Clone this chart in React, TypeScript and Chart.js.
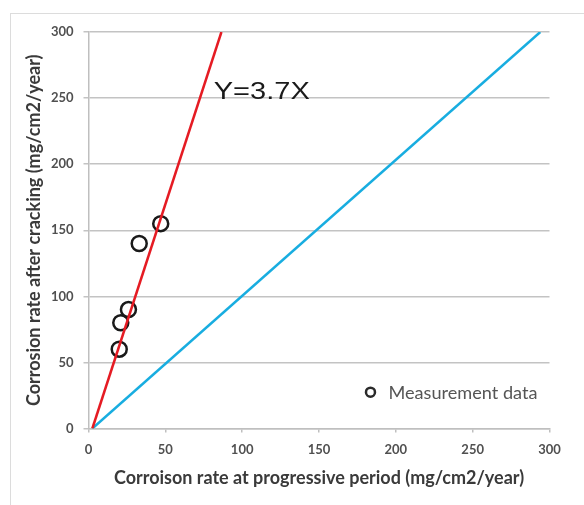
import React, { useEffect, useRef } from 'react';
import { Chart, registerables } from 'chart.js';

Chart.register(...registerables);

// ---- data ----
const xTickValues = [0, 50, 100, 150, 200, 250, 300];
const yTickValues = [0, 50, 100, 150, 200, 250, 300];
const measX = [20, 21, 26, 33, 47];
const measY = [60, 80, 90, 140, 155];
const fitLineX = [2.5, 86.5];
const fitLineY = [0, 300];
const refLineX = [2.5, 294];
const refLineY = [0, 300];
const fitLabel = 'Y=3.7X';
const legendLabel = 'Measurement data';
const xTitle = 'Corroison rate at progressive period (mg/cm2/year)';
const yTitle = 'Corrosion rate after cracking (mg/cm2/year)';

const toPts = (xs: number[], ys: number[]) => xs.map((x, i) => ({ x, y: ys[i] }));

const W = 584;
const H = 505;

const decorPlugin = {
  id: 'decor',
  beforeDraw(chart: any) {
    const ctx = chart.ctx;
    ctx.save();
    ctx.fillStyle = '#ffffff';
    ctx.fillRect(0, 0, chart.width, chart.height);
    ctx.strokeStyle = '#dcdcdc';
    ctx.lineWidth = 1;
    ctx.strokeRect(10.5, 13.5, 800, 800);
    ctx.restore();
  },
  afterDraw(chart: any) {
    const ctx = chart.ctx;
    const xs = chart.scales.x;
    const ys = chart.scales.y;
    ctx.save();
    // fit label
    ctx.font = '24px "Liberation Sans", Arial, sans-serif';
    ctx.fillStyle = '#1a1a1a';
    ctx.textBaseline = 'alphabetic';
    const tw = ctx.measureText(fitLabel).width;
    const lx = xs.getPixelForValue(81.5);
    const ly = ys.getPixelForValue(250) + 0.5;
    ctx.translate(lx, ly);
    ctx.scale(96 / tw, 1);
    ctx.fillText(fitLabel, 0, 0);
    ctx.restore();

    // legend
    ctx.save();
    const cx = xs.getPixelForValue(183.5);
    const cy = ys.getPixelForValue(27.5);
    ctx.beginPath();
    ctx.arc(cx, cy, 4.5, 0, Math.PI * 2);
    ctx.strokeStyle = '#2a2a2a';
    ctx.lineWidth = 2.5;
    ctx.stroke();
    ctx.font = '17px Lato, sans-serif';
    ctx.fillStyle = '#555555';
    ctx.textBaseline = 'middle';
    const lw = ctx.measureText(legendLabel).width;
    ctx.translate(cx + 18, cy + 1);
    ctx.scale(149 / lw, 1);
    ctx.fillText(legendLabel, 0, 0);
    ctx.restore();
  },
};

export default function App() {
  const ref = useRef<HTMLCanvasElement | null>(null);
  useEffect(() => {
    if (!ref.current) return;
    const chart = new Chart(ref.current, {
      type: 'scatter',
      data: {
        datasets: [
          {
            type: 'line',
            label: 'fit',
            data: toPts(fitLineX, fitLineY),
            borderColor: '#e51b23',
            borderWidth: 2.5,
            pointRadius: 0,
            fill: false,
            order: 0,
          },
          {
            type: 'line',
            label: 'ref',
            data: toPts(refLineX, refLineY),
            borderColor: '#18ade0',
            borderWidth: 2.5,
            pointRadius: 0,
            fill: false,
            order: 1,
          },
          {
            label: legendLabel,
            data: toPts(measX, measY),
            pointStyle: 'circle',
            pointRadius: 7.5,
            pointBorderWidth: 2.5,
            borderColor: '#1a1a1a',
            backgroundColor: 'rgba(0,0,0,0)',
            order: 2,
          },
        ],
      },
      options: {
        animation: false,
        responsive: false,
        maintainAspectRatio: false,
        layout: { padding: { left: 0, top: 32, right: 34.5, bottom: 0 } },
        plugins: { legend: { display: false }, tooltip: { enabled: false } },
        scales: {
          x: {
            type: 'linear',
            min: 0,
            max: 300,
            afterBuildTicks: (s: any) => {
              s.ticks = xTickValues.map((v) => ({ value: v }));
            },
            afterFit: (s: any) => {
              s.height = 76.5;
            },
            ticks: {
              color: '#505050',
              font: { family: 'Lato', size: 13, weight: 'bold' },
              padding: 10,
              maxRotation: 0,
            },
            grid: {
              drawOnChartArea: false,
              drawTicks: true,
              tickLength: 4,
              color: '#bfbfbf',
              lineWidth: 1.5,
            },
            border: { display: true, color: '#bfbfbf', width: 1.5 },
            title: {
              display: true,
              text: xTitle,
              color: '#3a3a3a',
              font: { family: 'Lato', size: 18, weight: 'bold' },
              padding: { top: 0, bottom: 16 },
            },
          },
          y: {
            type: 'linear',
            min: 0,
            max: 300,
            afterBuildTicks: (s: any) => {
              s.ticks = yTickValues.map((v) => ({ value: v }));
            },
            afterFit: (s: any) => {
              s.width = 88.5;
            },
            ticks: {
              color: '#505050',
              font: { family: 'Lato', size: 13, weight: 'bold' },
              padding: 10,
            },
            grid: {
              drawOnChartArea: true,
              drawTicks: true,
              tickLength: 5,
              color: '#c3c3c3',
              lineWidth: 1.5,
            },
            border: { display: true, color: '#bfbfbf', width: 1.5 },
            title: {
              display: true,
              text: yTitle,
              color: '#3a3a3a',
              font: { family: 'Lato', size: 18, weight: 'bold' },
              padding: { top: 23, bottom: 0 },
            },
          },
        },
      },
      plugins: [decorPlugin],
    } as any);
    return () => chart.destroy();
  }, []);
  return (
    <div style={{ position: 'fixed', left: 0, top: 0, width: W, height: H }}>
      <canvas ref={ref} width={W} height={H} style={{ width: W, height: H, display: 'block' }} />
    </div>
  );
}
